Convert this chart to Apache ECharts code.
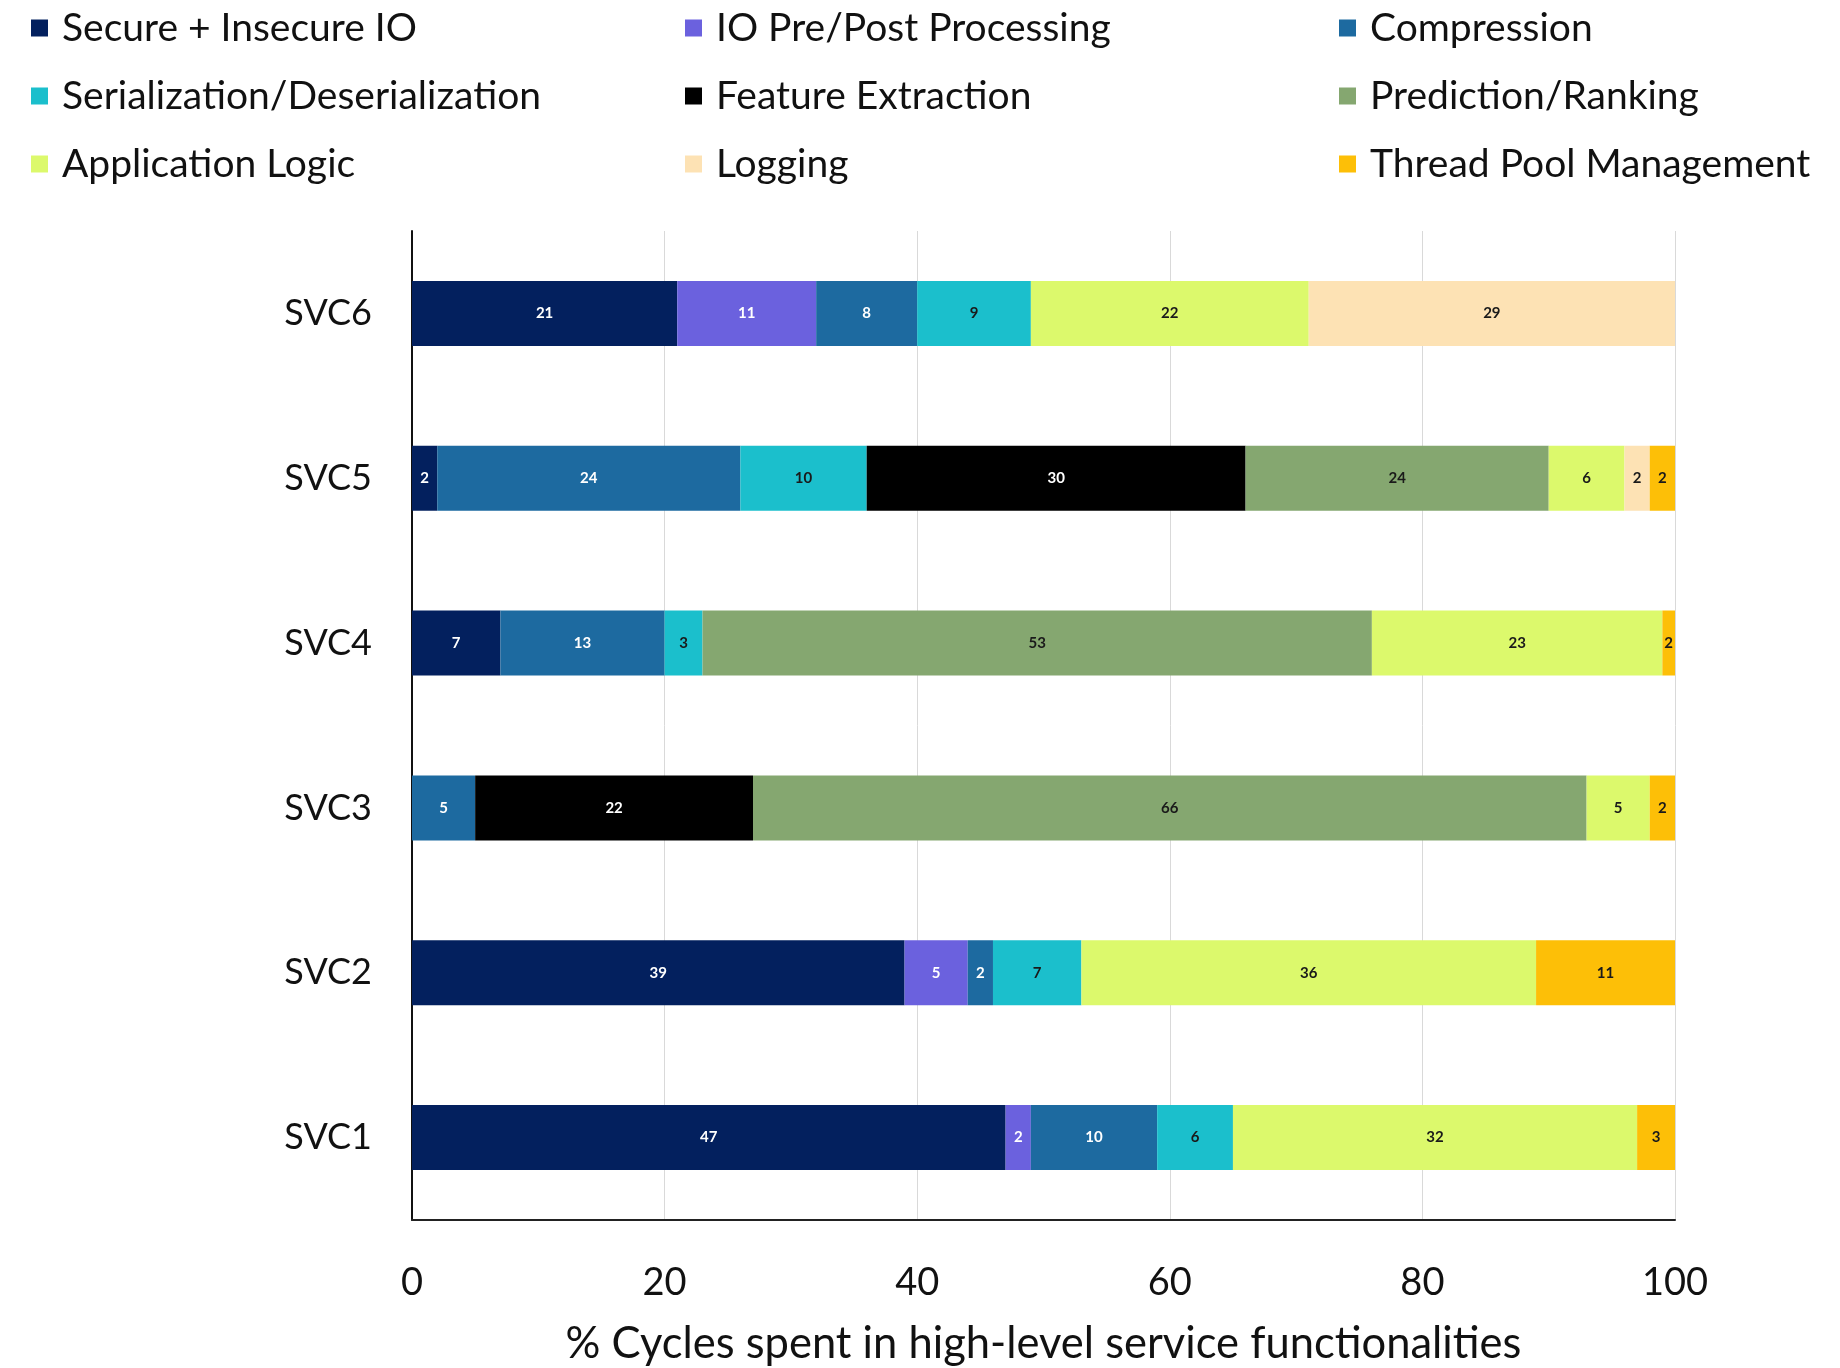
<!DOCTYPE html>
<html>
<head>
<meta charset="utf-8">
<style>
  html, body { margin: 0; padding: 0; background: #ffffff; }
  #chart { width: 1840px; height: 1368px; }
</style>
<script src="https://cdn.jsdelivr.net/npm/echarts@6/dist/echarts.min.js"></script>
</head>
<body>
<div id="chart"></div>
<script>
// Services, bottom to top on the category axis
const services = ['SVC1', 'SVC2', 'SVC3', 'SVC4', 'SVC5', 'SVC6'];
const xTicks = [0, 20, 40, 60, 80, 100];

// % cycles per functionality, one value per service (SVC1..SVC6); null = absent
const secureIO      = [47, 39, null, 7, 2, 21];
const ioPrePost     = [2, 5, null, null, null, 11];
const compression   = [10, 2, 5, 13, 24, 8];
const serialization = [6, 7, null, 3, 10, 9];
const featureExtr   = [null, null, 22, null, 30, null];
const prediction    = [null, null, 66, 53, 24, null];
const appLogic      = [32, 36, 5, 23, 6, 22];
const logging       = [null, null, null, null, 2, 29];
const threadPool    = [3, 11, 2, 2, 2, null];

const FONT = 'Lato';

const seriesDefs = [
  { name: 'Secure + Insecure IO',            data: secureIO,      color: '#03205e', text: '#ffffff' },
  { name: 'IO Pre/Post Processing',          data: ioPrePost,     color: '#6b61de', text: '#ffffff' },
  { name: 'Compression',                     data: compression,   color: '#1d6aa0', text: '#ffffff' },
  { name: 'Serialization/Deserialization',   data: serialization, color: '#1bbfcc', text: '#1a1a1a' },
  { name: 'Feature Extraction',              data: featureExtr,   color: '#000000', text: '#ffffff' },
  { name: 'Prediction/Ranking',              data: prediction,    color: '#85a770', text: '#1a1a1a' },
  { name: 'Application Logic',               data: appLogic,      color: '#dcf96c', text: '#1a1a1a' },
  { name: 'Logging',                         data: logging,       color: '#fde2b4', text: '#1a1a1a' },
  { name: 'Thread Pool Management',          data: threadPool,    color: '#fdbf07', text: '#1a1a1a' }
];

const series = seriesDefs.map(d => ({
  name: d.name,
  type: 'bar',
  stack: 'total',
  barWidth: 65,
  clip: true,
  data: d.data,
  itemStyle: { color: d.color },
  label: {
    show: true,
    position: 'inside',
    color: d.text,
    fontFamily: FONT,
    fontSize: 15,
    fontWeight: 'bold',
    formatter: p => (p.value == null ? '' : String(p.value))
  }
}));

// Legend laid out as three columns of three
const legendCols = [
  ['Secure + Insecure IO', 'Serialization/Deserialization', 'Application Logic'],
  ['IO Pre/Post Processing', 'Feature Extraction', 'Logging'],
  ['Compression', 'Prediction/Ranking', 'Thread Pool Management']
];
const legendLeft = [31, 685, 1339];
const legends = legendCols.map((names, i) => ({
  data: names,
  orient: 'vertical',
  left: legendLeft[i],
  top: 8,
  padding: 0,
  icon: 'rect',
  itemWidth: 17,
  itemHeight: 17,
  itemGap: 28,
  selectedMode: false,
  textStyle: { fontFamily: FONT, fontSize: 39, color: '#111111', lineHeight: 40, padding: [0, 0, 0, 9] }
}));

const chart = echarts.init(document.getElementById('chart'), null, { renderer: 'canvas' });
chart.setOption({
  animation: false,
  backgroundColor: '#ffffff',
  legend: legends,
  grid: { left: 412, right: 165, top: 231, bottom: 148, containLabel: false, outerBoundsMode: 'none' },
  xAxis: {
    type: 'value',
    min: xTicks[0],
    max: xTicks[xTicks.length - 1],
    interval: 20,
    name: '% Cycles spent in high-level service functionalities',
    nameLocation: 'middle',
    nameGap: 102,
    nameTextStyle: { fontFamily: FONT, fontSize: 43.5, color: '#111111' },
    axisLine: { show: true, lineStyle: { color: '#222222', width: 2 } },
    axisTick: { show: false },
    axisLabel: { fontFamily: FONT, fontSize: 38, color: '#111111', margin: 44 },
    splitLine: { show: true, lineStyle: { color: '#d9d9d9', width: 1 } }
  },
  yAxis: {
    type: 'category',
    data: services,
    axisLine: { show: true, lineStyle: { color: '#111111', width: 2 } },
    axisTick: { show: false },
    axisLabel: { fontFamily: FONT, fontSize: 36, color: '#111111', margin: 40 }
  },
  series: series
});
</script>
</body>
</html>
